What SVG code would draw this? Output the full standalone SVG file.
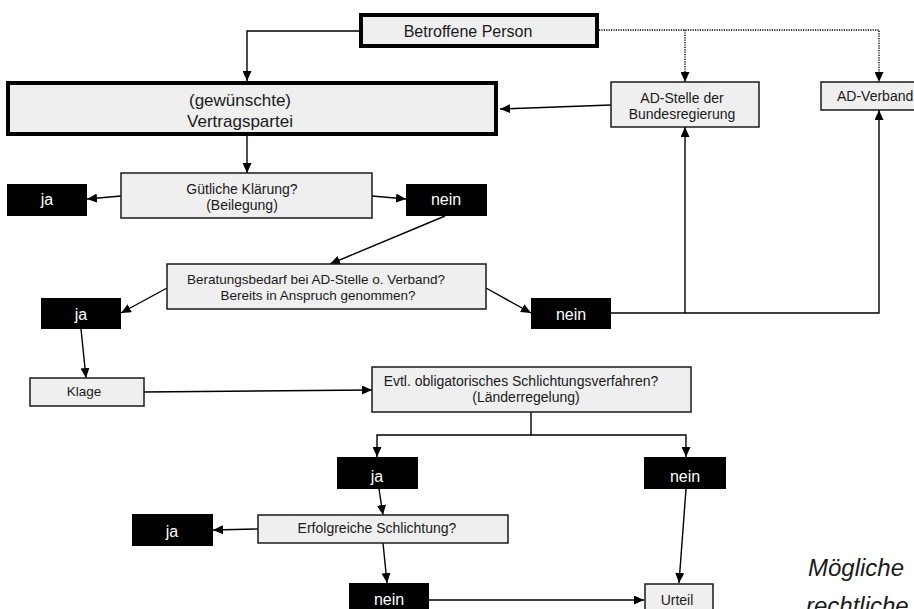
<svg xmlns="http://www.w3.org/2000/svg" width="914" height="609" viewBox="0 0 914 609">
<defs>
<marker id="ah" markerUnits="userSpaceOnUse" markerWidth="11" markerHeight="9" refX="10" refY="4.5" orient="auto">
<path d="M0,0 L10,4.5 L0,9 z" fill="#000"/>
</marker>
</defs>
<style>
.box{fill:#efefef;stroke:#1a1a1a;stroke-width:1.5}
.thick{fill:#efefef;stroke:#000;stroke-width:4}
.blk{fill:#000}
.t{font-family:"Liberation Sans",Arial,sans-serif;font-size:14px;fill:#1a1a1a;text-anchor:middle}
.w{font-family:"Liberation Sans",Arial,sans-serif;font-size:16px;fill:#fff;text-anchor:middle}
.c{fill:none;stroke:#000;stroke-width:1.4}
.a{marker-end:url(#ah)}
.d{stroke-dasharray:1.2 1.2}
.it{font-family:"Liberation Sans",Arial,sans-serif;font-style:italic;font-size:24px;fill:#1a1a1a}
</style>
<rect width="914" height="609" fill="#fff"/>
<g id="connectors">
<path class="c a" d="M359,31 H247 V81"/>
<path class="c d a" d="M599,30 H879 V82"/>
<path class="c d a" d="M685,30 V82"/>
<path class="c a" d="M611,105 L500,109"/>
<path class="c a" d="M247,136 V173"/>
<path class="c a" d="M121,196 L87,199"/>
<path class="c a" d="M372,196 L406,199"/>
<path class="c a" d="M445,216 L330,264"/>
<path class="c a" d="M167,288 L121,313"/>
<path class="c a" d="M486,288 L531,313"/>
<path class="c a" d="M611,313 H879 V110"/>
<path class="c a" d="M685,313 V127"/>
<path class="c a" d="M81,329 L86,378"/>
<path class="c a" d="M144,392 L372,390"/>
<path class="c a" d="M531,412 V435 H377 V457"/>
<path class="c a" d="M531,435 H686 V457"/>
<path class="c a" d="M379,489 L383,515"/>
<path class="c a" d="M258,529 L213,530"/>
<path class="c a" d="M383,543 L387,583"/>
<path class="c a" d="M429,600 H644"/>
<path class="c a" d="M686,489 L679,583"/>
</g>
<g id="betroffene">
<rect class="thick" x="361" y="15" width="236" height="31"/>
<text class="t" x="468" y="37" style="font-size:16px">Betroffene Person</text>
</g>
<g id="vertragspartei">
<rect class="thick" x="8" y="83" width="488" height="51"/>
<text class="t" x="240" y="106" style="font-size:17px">(gewünschte)</text>
<text class="t" x="240" y="127" style="font-size:17px">Vertragspartei</text>
</g>
<g id="adstelle">
<rect class="box" x="611" y="82" width="148" height="45"/>
<text class="t" x="682" y="103">AD-Stelle der</text>
<text class="t" x="682" y="119">Bundesregierung</text>
</g>
<g id="adverband">
<rect class="box" x="821" y="82" width="100" height="28"/>
<text class="t" x="837" y="101" style="text-anchor:start">AD-Verband</text>
</g>
<g id="guetliche">
<rect class="box" x="121" y="173" width="251" height="45"/>
<text class="t" x="242" y="194">Gütliche Klärung?</text>
<text class="t" x="242" y="210">(Beilegung)</text>
</g>
<g id="ja1">
<rect class="blk" x="7" y="184" width="80" height="32"/>
<text class="w" x="47" y="205">ja</text>
</g>
<g id="nein1">
<rect class="blk" x="406" y="184" width="81" height="32"/>
<text class="w" x="446" y="205">nein</text>
</g>
<g id="beratung">
<rect class="box" x="167" y="264" width="319" height="45"/>
<text class="t" x="316" y="284" style="font-size:13.5px">Beratungsbedarf bei AD-Stelle o. Verband?</text>
<text class="t" x="318" y="300" style="font-size:13.5px">Bereits in Anspruch genommen?</text>
</g>
<g id="ja2">
<rect class="blk" x="41" y="298" width="80" height="31"/>
<text class="w" x="81" y="320">ja</text>
</g>
<g id="nein2">
<rect class="blk" x="531" y="298" width="80" height="31"/>
<text class="w" x="571" y="320">nein</text>
</g>
<g id="klage">
<rect class="box" x="30" y="378" width="114" height="28"/>
<text class="t" x="84" y="396" style="font-size:13.5px">Klage</text>
</g>
<g id="schlichtungsverfahren">
<rect class="box" x="372" y="367" width="319" height="45"/>
<text class="t" x="521" y="386">Evtl. obligatorisches Schlichtungsverfahren?</text>
<text class="t" x="526" y="402">(Länderregelung)</text>
</g>
<g id="ja3">
<rect class="blk" x="337" y="457" width="81" height="32"/>
<text class="w" x="377" y="482">ja</text>
</g>
<g id="nein3">
<rect class="blk" x="644" y="457" width="82" height="32"/>
<text class="w" x="685" y="482">nein</text>
</g>
<g id="erfolgreich">
<rect class="box" x="258" y="515" width="250" height="28"/>
<text class="t" x="377" y="533">Erfolgreiche Schlichtung?</text>
</g>
<g id="ja4">
<rect class="blk" x="132" y="514" width="81" height="32"/>
<text class="w" x="172" y="537">ja</text>
</g>
<g id="nein4">
<rect class="blk" x="349" y="583" width="80" height="32"/>
<text class="w" x="389" y="605">nein</text>
</g>
<g id="urteil">
<rect class="box" x="645" y="584" width="68" height="30"/>
<text class="t" x="677" y="605">Urteil</text>
</g>
<g id="caption">
<text class="it" x="808" y="576">Mögliche</text>
<text class="it" x="806" y="614">rechtliche</text>
</g>
</svg>
